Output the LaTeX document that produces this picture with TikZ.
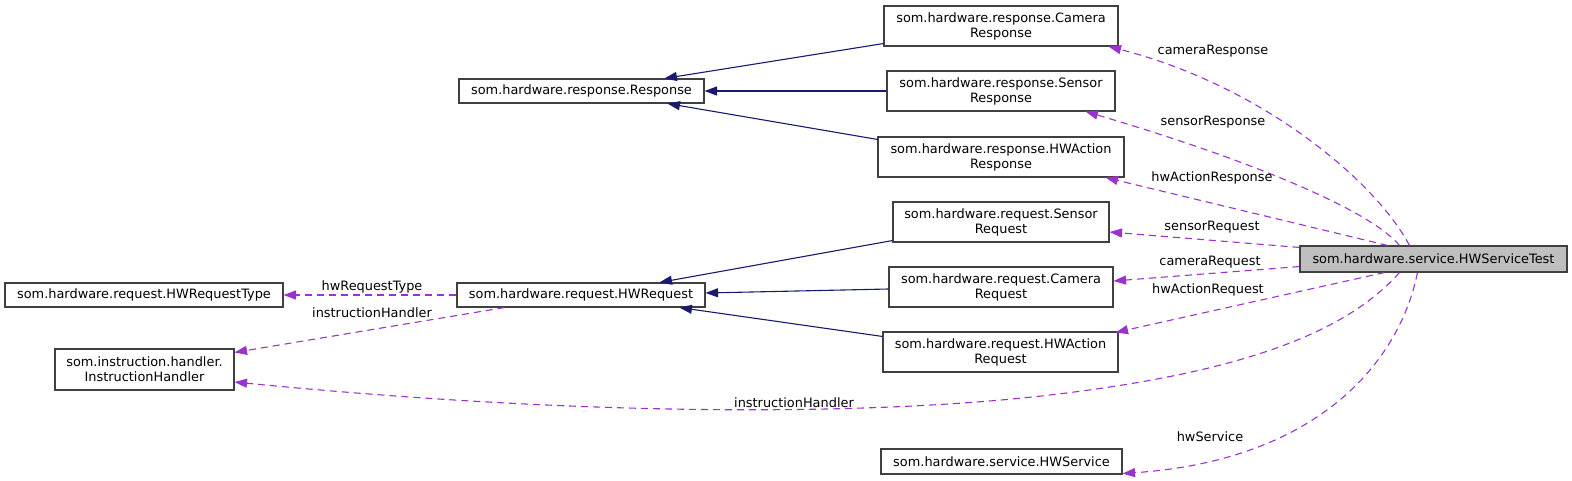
\documentclass[tikz,border=0pt]{standalone}
\usepackage{fontspec}
\setmainfont{DejaVu Sans}
\usetikzlibrary{arrows.meta,calc}
\definecolor{edgeblue}{HTML}{191970}
\definecolor{edgepurple}{HTML}{9A32CD}
\definecolor{boxline}{HTML}{404040}
\definecolor{boxgray}{HTML}{BFBFBF}
\begin{document}
\begin{tikzpicture}[x=1pt,y=-1pt,
  cls/.style={draw=boxline, line width=1.1pt, fill=white, inner sep=0pt, align=center, font=\fontsize{12.9}{15}\selectfont},
  inh/.style={draw=edgeblue, line width=1.1pt, -{Triangle[length=12.5pt,width=9pt,fill=edgeblue]}},
  use/.style={draw=edgepurple, line width=1.1pt, dash pattern=on 7pt off 5pt, -{Triangle[length=12.5pt,width=9pt,fill=edgepurple]}},
  lbl/.style={font=\fontsize{12.9}{15}\selectfont, inner sep=0pt}]
\useasboundingbox (0,0) rectangle (1572,481);

% nodes
\node[cls, minimum width=234pt, minimum height=40pt] (camresp) at (1001,26) {som.hardware.response.Camera\\Response};
\node[cls, minimum width=228pt, minimum height=40pt] (sensresp) at (1001,91) {som.hardware.response.Sensor\\Response};
\node[cls, minimum width=246pt, minimum height=40pt] (hwactresp) at (1001,157) {som.hardware.response.HWAction\\Response};
\node[cls, minimum width=245pt, minimum height=24pt] (resp) at (581.5,91) {som.hardware.response.Response};
\node[cls, minimum width=216pt, minimum height=40pt] (sensreq) at (1001,222) {som.hardware.request.Sensor\\Request};
\node[cls, minimum width=224pt, minimum height=40pt] (camreq) at (1001,287) {som.hardware.request.Camera\\Request};
\node[cls, minimum width=235pt, minimum height=40pt] (hwactreq) at (1000.5,352) {som.hardware.request.HWAction\\Request};
\node[cls, minimum width=248pt, minimum height=24pt] (hwreq) at (581,295) {som.hardware.request.HWRequest};
\node[cls, minimum width=278pt, minimum height=24pt] (hwreqtype) at (144,295) {som.hardware.request.HWRequestType};
\node[cls, minimum width=179pt, minimum height=41pt] (insth) at (144.5,369.5) {som.instruction.handler.\\InstructionHandler};
\node[cls, fill=boxgray, minimum width=267pt, minimum height=26pt] (test) at (1433.5,259) {som.hardware.service.HWServiceTest};
\node[cls, minimum width=241pt, minimum height=25pt] (hwsvc) at (1001.5,461.5) {som.hardware.service.HWService};

% inheritance edges
\draw[inh] ($(camresp.south west)+(0,-3)$) -- ($(resp.north west)+(206,0)$);
\draw[inh] (sensresp.west) -- (resp.east);
\draw[inh] ($(hwactresp.north west)+(0,3)$) -- ($(resp.south west)+(209,0)$);
\draw[inh] ($(sensreq.south west)+(0,-2)$) -- ($(hwreq.north west)+(203,0)$);
\draw[inh] ($(camreq.west)+(0,2)$) -- ($(hwreq.east)+(0,-2)$);
\draw[inh] ($(hwactreq.north west)+(0,5)$) -- ($(hwreq.south west)+(223,0)$);

% usage edges
\draw[use] ($(test.north west)+(110,0)$) .. controls (1375,180) and (1260,85) .. ($(camresp.south east)+(-10,0)$);
\draw[use] ($(test.north west)+(100,0)$) .. controls (1370,210) and (1250,160) .. ($(sensresp.south east)+(-30,0)$);
\draw[use] ($(test.north west)+(88,0)$) -- ($(hwactresp.south east)+(-19,0)$);
\draw[use] ($(test.north west)+(0,2)$) -- ($(sensreq.east)+(0,10)$);
\draw[use] ($(test.south west)+(0,-6)$) -- ($(camreq.east)+(0,-6)$);
\draw[use] ($(test.south west)+(85,0)$) -- ($(hwactreq.north east)+(-3,1)$);
\draw[use] ($(test.south west)+(100,0)$) .. controls (1340,340) and (1220,375) .. (1050,395)
  .. controls (880,415) and (600,418) .. ($(insth.east)+(0,12.5)$);
\draw[use] ($(test.south west)+(118,0)$) .. controls (1400,360) and (1320,460) .. ($(hwsvc.south east)+(0,-1)$);
\draw[use] (hwreq.west) -- (hwreqtype.east);
\draw[use] ($(hwreq.south west)+(48,0)$) -- ($(insth.north east)+(0,4)$);

% labels
\node[lbl] (l1) at (1213,51) {cameraResponse};
\node[lbl] (l2) at (1213,122) {sensorResponse};
\node[lbl] (l3) at (1212,178) {hwActionResponse};
\node[lbl] (l4) at (1212,227) {sensorRequest};
\node[lbl] (l5) at (1210,262) {cameraRequest};
\node[lbl] (l6) at (1208,290) {hwActionRequest};
\node[lbl] (l7) at (794,403) {instructionHandler};
\node[lbl] (l8) at (1210,437) {hwService};
\node[lbl] (l9) at (372,287) {hwRequestType};
\node[lbl] (l10) at (372,313) {instructionHandler};
\end{tikzpicture}
\end{document}
